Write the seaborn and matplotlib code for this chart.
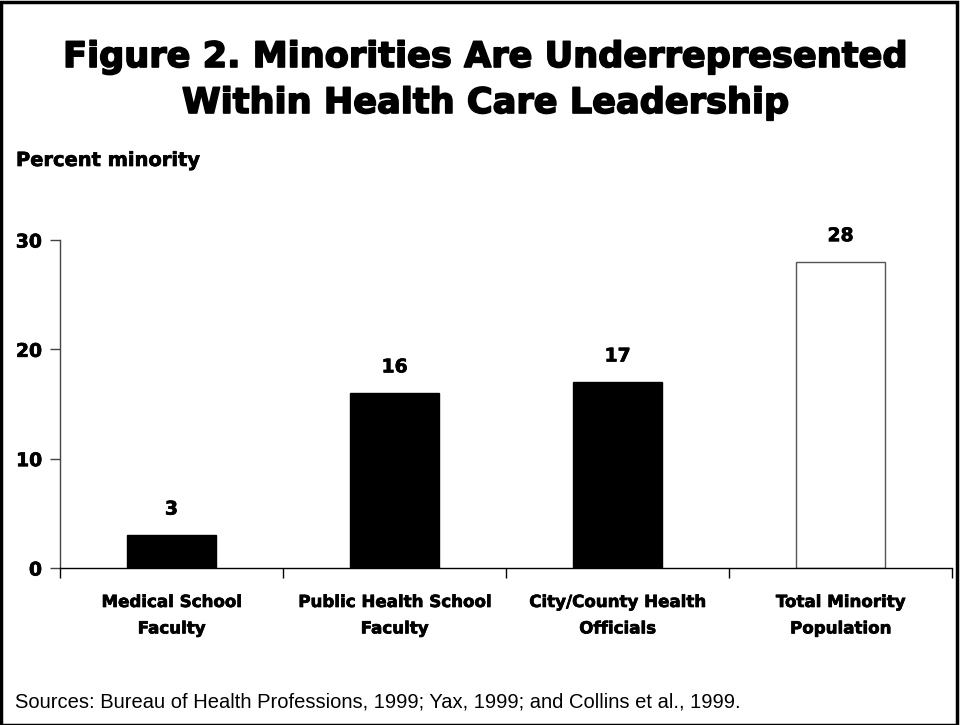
import matplotlib
matplotlib.use("Agg")
import matplotlib.pyplot as plt
import matplotlib.patheffects as pe
import seaborn as sns
import pandas as pd
from matplotlib.patches import Rectangle
from matplotlib.ticker import FixedLocator

categories = ["Medical School\nFaculty", "Public Health School\nFaculty",
              "City/County Health\nOfficials", "Total Minority\nPopulation"]
values = [3, 16, 17, 28]
fill_colors = ["black", "black", "black", "white"]
edge_colors = ["black", "black", "black", "#555555"]
y_ticks = [0, 10, 20, 30]

sns.set_theme(style="white")
plt.rcParams["font.family"] = ["Liberation Sans", "DejaVu Sans"]
for key in ["text.color", "axes.labelcolor", "xtick.color", "ytick.color"]:
    plt.rcParams[key] = "black"

HEAVY = ["DejaVu Sans"]
# a thin outline in the text colour gives the bold face a blacker weight
THICK = [pe.withStroke(linewidth=0.5, foreground="black")]
THICK_TITLE = [pe.withStroke(linewidth=1.2, foreground="black")]

df = pd.DataFrame({"category": categories, "value": values})

fig = plt.figure(figsize=(9.6, 7.25), dpi=100)
ax = fig.add_axes([60 / 960, 1 - 568 / 725, 892 / 960, 328 / 725])

sns.barplot(data=df, x="category", y="value", hue="category",
            palette=dict(zip(categories, fill_colors)), width=0.4,
            legend=False, ax=ax, saturation=1)
for patch, ec in zip(ax.patches, edge_colors):
    patch.set_edgecolor(ec)
    patch.set_linewidth(1.0)

ax.set_xlim(-0.5, len(categories) - 0.5)
ax.set_ylim(0, 30)
ax.set_yticks(y_ticks)
ax.set_yticklabels([str(t) for t in y_ticks], fontweight="bold", fontsize=13.5,
                   family=HEAVY)
for lbl in ax.get_yticklabels():
    lbl.set_path_effects(THICK)
ax.set_xlabel("")
ax.set_ylabel("")

# category labels at bar centres, tick marks between categories
ax.tick_params(axis="x", which="major", length=0, pad=18)
ax.xaxis.set_minor_locator(FixedLocator([i - 0.5 for i in range(len(categories) + 1)]))
ax.tick_params(axis="x", which="minor", bottom=True, length=7, width=1,
               color="black", direction="out")
ax.tick_params(axis="y", which="major", left=True, length=7, width=1,
               color="#444444", direction="out", pad=6)
for lbl in ax.get_xticklabels():
    lbl.set_fontweight("bold")
    lbl.set_fontsize(12)
    lbl.set_family(HEAVY)
    lbl.set_linespacing(1.6)
    lbl.set_path_effects(THICK)

for side in ["top", "right"]:
    ax.spines[side].set_visible(False)
ax.spines["left"].set_color("#444444")
ax.spines["left"].set_linewidth(1)
ax.spines["bottom"].set_color("black")
ax.spines["bottom"].set_linewidth(1)

for i, v in enumerate(values):
    ax.annotate(str(v), (i, v), xytext=(0, 12), textcoords="offset points",
                ha="center", va="bottom", fontsize=13.5, fontweight="bold",
                family=HEAVY, clip_on=False, path_effects=THICK)

fig.text(486 / 960, 1 - 67 / 725, "Figure 2. Minorities Are Underrepresented",
         ha="center", va="baseline", fontsize=25.3, fontweight="bold",
         family=HEAVY, path_effects=THICK_TITLE)
fig.text(486 / 960, 1 - 113 / 725, "Within Health Care Leadership",
         ha="center", va="baseline", fontsize=25.3, fontweight="bold",
         family=HEAVY, path_effects=THICK_TITLE)
fig.text(16 / 960, 1 - 166 / 725, "Percent minority", ha="left", va="baseline",
         fontsize=14, fontweight="bold", family=HEAVY, path_effects=THICK)
fig.text(15 / 960, 1 - 707 / 725,
         "Sources: Bureau of Health Professions, 1999; Yax, 1999; and Collins et al., 1999.",
         ha="left", va="baseline", fontsize=14.5)

fig.patches.append(Rectangle((0.001, 0.0), 0.996, 0.997, transform=fig.transFigure,
                             fill=False, edgecolor="black", linewidth=2.5))

fig.savefig("out.png", dpi=100)
